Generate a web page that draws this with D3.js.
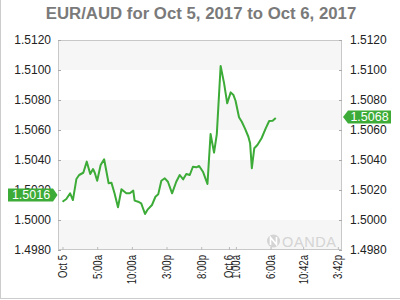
<!DOCTYPE html>
<html><head><meta charset="utf-8">
<script src="https://cdn.jsdelivr.net/npm/d3@7"></script>
<style>
body{margin:0;background:#fff}
svg{display:block;font-family:Arial,"Liberation Sans",sans-serif}
</style></head>
<body><svg id="c" width="400" height="300"></svg>
<script>
// ---- data ----
const title = "EUR/AUD for Oct 5, 2017 to Oct 6, 2017";
// hours after Oct 5 2017 00:00
const hours = [0.0,0.55,1.1,1.5,2.0,2.4,3.0,3.5,4.0,4.4,4.65,5.0,5.5,6.0,6.65,7.05,7.5,8.0,8.5,9.2,9.7,10.2,10.4,10.9,11.35,11.9,12.3,12.9,13.4,13.8,14.25,14.75,15.2,15.8,16.4,16.9,17.4,17.85,18.35,18.8,19.3,19.7,20.25,20.9,21.35,21.85,22.25,22.8,23.3,23.75,24.25,24.65,24.95,25.45,25.85,26.3,26.8,27.05,27.3,27.65,28.1,28.7,29.3,29.8,30.3,30.75];
const values = [1.50122,1.50140,1.50178,1.50133,1.50273,1.50300,1.50315,1.50389,1.50307,1.50340,1.50315,1.50262,1.50367,1.50405,1.50245,1.50249,1.50178,1.50085,1.50205,1.50178,1.50178,1.50196,1.50129,1.50122,1.50111,1.50040,1.50071,1.50100,1.50155,1.50171,1.50262,1.50278,1.50255,1.50178,1.50255,1.50300,1.50271,1.50307,1.50300,1.50355,1.50351,1.50360,1.50322,1.50240,1.50573,1.50449,1.50573,1.51027,1.50911,1.50778,1.50851,1.50833,1.50795,1.50685,1.50655,1.50611,1.50555,1.50511,1.50345,1.50478,1.50500,1.50545,1.50611,1.50660,1.50662,1.50680];
const yTicks = [1.4980,1.5000,1.5020,1.5040,1.5060,1.5080,1.5100,1.5120];
const xTickHours = [0,5,10,15,20,24,25,30,34.7,39.7];
const xTickLabels = ["Oct 5","5:00a","10:00a","3:00p","8:00p","Oct 6","1:00a","6:00a","10:42a","3:42p"];
const firstPrice = 1.5016, lastPrice = 1.5068;
const domainHours = [-0.65, 40.3];

// ---- chart ----
const base = new Date(2017, 9, 5, 0, 0);
const toDate = h => new Date(base.getTime() + h * 3600000);
const L = 58, R = 342, T = 40, B = 250;
const svg = d3.select("#c");
const x = d3.scaleTime().domain(domainHours.map(toDate)).range([L, R]);
const y = d3.scaleLinear().domain([1.4980, 1.5120]).range([B, T]);

// outer frame (left + bottom)
svg.append("line").attr("x1",0.5).attr("x2",0.5).attr("y1",0).attr("y2",299).attr("stroke","#ccc");
svg.append("line").attr("x1",0).attr("x2",400).attr("y1",298.5).attr("y2",298.5).attr("stroke","#ccc");

// title
svg.append("text").attr("x",201).attr("y",19).attr("text-anchor","middle")
  .attr("font-size",16.8).attr("font-weight","bold").attr("fill","#7a7a7a").text(title);

// bands
const bands = d3.range(yTicks.length - 1).filter(i => i % 2 === 0);
svg.selectAll("rect.band").data(bands).join("rect").attr("class","band")
  .attr("x", L).attr("width", R - L)
  .attr("y", i => y(yTicks[i+1])).attr("height", i => y(yTicks[i]) - y(yTicks[i+1]))
  .attr("fill","#f6f6f6");

// watermark
const wm = svg.append("g").attr("fill","#d4d4d4");
wm.append("circle").attr("cx",273.5).attr("cy",241).attr("r",6.5);
wm.append("path").attr("d","M270.5,245 L270.5,237.5 L276.5,244.5 L276.5,237").attr("stroke","#fff").attr("stroke-width",1.6).attr("fill","none");
wm.append("text").attr("x",282).attr("y",247).attr("font-size",14.5).attr("textLength",54).attr("fill","#d4d4d4").text("OANDA");

// frame lines
const fc = "#c8c8c8";
svg.append("line").attr("x1",L+0.5).attr("x2",L+0.5).attr("y1",T).attr("y2",B).attr("stroke",fc);
svg.append("line").attr("x1",R-0.5).attr("x2",R-0.5).attr("y1",T).attr("y2",B).attr("stroke",fc);
svg.append("line").attr("x1",L).attr("x2",R).attr("y1",T+0.5).attr("y2",T+0.5).attr("stroke",fc);
svg.append("line").attr("x1",L).attr("x2",R).attr("y1",B-0.5).attr("y2",B-0.5).attr("stroke",fc);

// y axes
const fmt = d3.format(".4f");
const yl = d3.axisLeft(y).tickValues(yTicks).tickFormat(fmt).tickSize(-3).tickPadding(7);
const yr = d3.axisRight(y).tickValues(yTicks).tickFormat(fmt).tickSize(-3).tickPadding(8);
function styleAxis(g){
  g.select(".domain").remove();
  g.selectAll(".tick line").attr("stroke","#aaa");
  g.selectAll(".tick text").attr("font-size",12).attr("font-family","Arial,'Liberation Sans',sans-serif").attr("fill","#222");
}
svg.append("g").attr("transform",`translate(${L},0)`).call(yl).call(styleAxis);
svg.append("g").attr("transform",`translate(${R},0)`).call(yr).call(styleAxis);

// x axis
const xa = d3.axisBottom(x).tickValues(xTickHours.map(toDate))
  .tickFormat((d,i) => xTickLabels[i]).tickSize(-3);
const gx = svg.append("g").attr("transform",`translate(0,${B})`).call(xa);
gx.select(".domain").remove();
gx.selectAll(".tick line").attr("stroke","#bbb");
gx.selectAll(".tick text").attr("font-size",12).attr("font-family","Arial,'Liberation Sans',sans-serif")
  .attr("fill","#222").attr("text-anchor","end").attr("dy",null).attr("y",null)
  .attr("transform","translate(4,5) rotate(-90) scale(0.8,1)");

// line
svg.append("path").datum(hours.map((h,i)=>[h,values[i]]))
  .attr("fill","none").attr("stroke","#3cab37").attr("stroke-width",2).attr("stroke-linejoin","round")
  .attr("d", d3.line().x(d => x(toDate(d[0]))).y(d => y(d[1])));

// price labels
const green = "#3cab37";
const yf = y(firstPrice) - 1, yl2 = y(lastPrice) - 1;
svg.append("path").attr("fill",green)
  .attr("d",`M8,${yf-6.5} L53,${yf-6.5} L57.5,${yf} L53,${yf+6.5} L8,${yf+6.5} Z`);
svg.append("text").attr("x",31).attr("y",yf+4.3).attr("text-anchor","middle").attr("font-size",12.5)
  .attr("fill","#fff").text(fmt(firstPrice));
svg.append("path").attr("fill",green)
  .attr("d",`M343,${yl2} L348,${yl2-6.5} L391,${yl2-6.5} L391,${yl2+6.5} L348,${yl2+6.5} Z`);
svg.append("text").attr("x",369.5).attr("y",yl2+4.3).attr("text-anchor","middle").attr("font-size",12.5)
  .attr("fill","#fff").text(fmt(lastPrice));
</script></body></html>
